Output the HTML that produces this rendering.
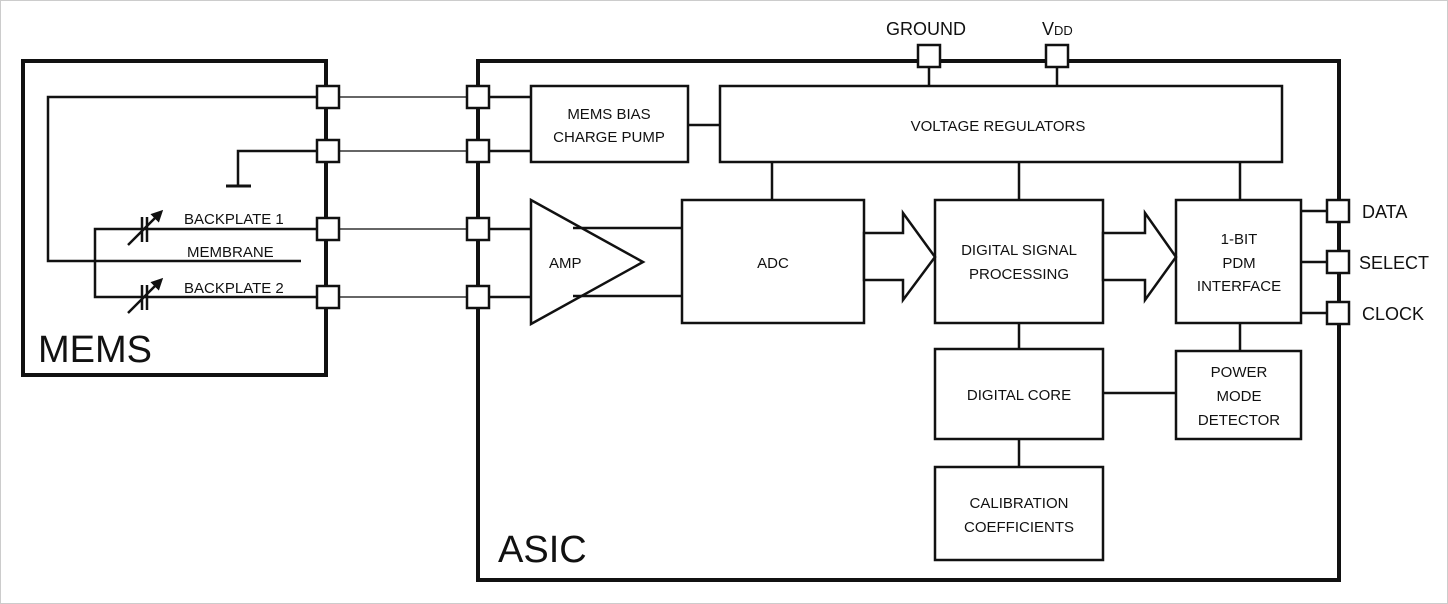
<!DOCTYPE html>
<html><head><meta charset="utf-8"><style>
html,body{margin:0;padding:0;background:#fff;}
svg{display:block;}
text{font-family:"Liberation Sans",sans-serif;fill:#111;}
</style></head><body>
<svg width="1448" height="604" viewBox="0 0 1448 604" xmlns="http://www.w3.org/2000/svg">
<defs>
<marker id="ah" markerWidth="12" markerHeight="12" refX="9" refY="6" orient="auto" markerUnits="userSpaceOnUse"><path d="M0,0 L12,6 L0,12 z" fill="#111"/></marker>
</defs>
<rect x="0.5" y="0.5" width="1447" height="603" fill="#fff" stroke="#ccc"/>
<g stroke="#666" stroke-width="2">
<line x1="340" y1="97" x2="466" y2="97"/>
<line x1="340" y1="151" x2="466" y2="151"/>
<line x1="340" y1="229" x2="466" y2="229"/>
<line x1="340" y1="297" x2="466" y2="297"/>
</g>
<rect x="23" y="61" width="303" height="314" fill="none" stroke="#111" stroke-width="4"/>
<rect x="478" y="61" width="861" height="519" fill="none" stroke="#111" stroke-width="4"/>
<g stroke="#111" stroke-width="2.5" fill="none">
<polyline points="317,97 48,97 48,261 301,261"/>
<polyline points="317,151 238,151 238,185"/>
<line x1="226" y1="186" x2="251" y2="186" stroke-width="3"/>
<polyline points="317,229 95,229 95,297 317,297"/>
<line x1="142" y1="217" x2="142" y2="242"/><line x1="147" y1="217" x2="147" y2="242"/>
<line x1="142" y1="285" x2="142" y2="310"/><line x1="147" y1="285" x2="147" y2="310"/>
<line x1="128" y1="245" x2="161" y2="212" marker-end="url(#ah)"/>
<line x1="128" y1="313" x2="161" y2="280" marker-end="url(#ah)"/>
<line x1="490" y1="97" x2="531" y2="97"/>
<line x1="490" y1="151" x2="531" y2="151"/>
<line x1="490" y1="229" x2="531" y2="229"/>
<line x1="490" y1="297" x2="531" y2="297"/>
<line x1="688" y1="125" x2="720" y2="125"/>
<line x1="929" y1="66" x2="929" y2="86"/>
<line x1="1057" y1="66" x2="1057" y2="86"/>
<line x1="772" y1="162" x2="772" y2="200"/>
<line x1="1019" y1="162" x2="1019" y2="200"/>
<line x1="1240" y1="162" x2="1240" y2="200"/>
<line x1="1019" y1="323" x2="1019" y2="349"/>
<line x1="1019" y1="439" x2="1019" y2="467"/>
<line x1="1240" y1="323" x2="1240" y2="351"/>
<line x1="1103" y1="393" x2="1176" y2="393"/>
<line x1="1301" y1="211" x2="1327" y2="211"/>
<line x1="1301" y1="262" x2="1327" y2="262"/>
<line x1="1301" y1="313" x2="1327" y2="313"/>
<line x1="573" y1="228" x2="682" y2="228"/>
<line x1="573" y1="296" x2="682" y2="296"/>
<rect x="531" y="86" width="157" height="76"/>
<rect x="720" y="86" width="562" height="76"/>
<polygon points="531,200 531,324 643,262"/>
<rect x="682" y="200" width="182" height="123"/>
<rect x="935" y="200" width="168" height="123"/>
<rect x="1176" y="200" width="125" height="123"/>
<rect x="935" y="349" width="168" height="90"/>
<rect x="1176" y="351" width="125" height="88"/>
<rect x="935" y="467" width="168" height="93"/>
<polygon points="864,233 903,233 903,213 935,257 903,300 903,280 864,280" fill="#fff"/>
<polygon points="1103,233 1145,233 1145,213 1176,257 1145,300 1145,280 1103,280" fill="#fff"/>
</g>
<g fill="#fff" stroke="#111" stroke-width="2.5">
<rect x="317" y="86" width="22" height="22"/><rect x="317" y="140" width="22" height="22"/>
<rect x="317" y="218" width="22" height="22"/><rect x="317" y="286" width="22" height="22"/>
<rect x="467" y="86" width="22" height="22"/><rect x="467" y="140" width="22" height="22"/>
<rect x="467" y="218" width="22" height="22"/><rect x="467" y="286" width="22" height="22"/>
<rect x="918" y="45" width="22" height="22"/><rect x="1046" y="45" width="22" height="22"/>
<rect x="1327" y="200" width="22" height="22"/><rect x="1327" y="251" width="22" height="22"/>
<rect x="1327" y="302" width="22" height="22"/>
</g>
<g font-size="15">
<text x="184" y="224">BACKPLATE 1</text>
<text x="187" y="257">MEMBRANE</text>
<text x="184" y="293">BACKPLATE 2</text>
<text x="609" y="119" text-anchor="middle">MEMS BIAS</text>
<text x="609" y="142" text-anchor="middle">CHARGE PUMP</text>
<text x="998" y="131" text-anchor="middle">VOLTAGE REGULATORS</text>
<text x="549" y="268">AMP</text>
<text x="773" y="268" text-anchor="middle">ADC</text>
<text x="1019" y="255" text-anchor="middle">DIGITAL SIGNAL</text>
<text x="1019" y="279" text-anchor="middle">PROCESSING</text>
<text x="1239" y="244" text-anchor="middle">1-BIT</text>
<text x="1239" y="268" text-anchor="middle">PDM</text>
<text x="1239" y="291" text-anchor="middle">INTERFACE</text>
<text x="1019" y="400" text-anchor="middle">DIGITAL CORE</text>
<text x="1239" y="377" text-anchor="middle">POWER</text>
<text x="1239" y="401" text-anchor="middle">MODE</text>
<text x="1239" y="425" text-anchor="middle">DETECTOR</text>
<text x="1019" y="508" text-anchor="middle">CALIBRATION</text>
<text x="1019" y="532" text-anchor="middle">COEFFICIENTS</text>
</g>
<g font-size="18">
<text x="926" y="35" text-anchor="middle">GROUND</text>
<text x="1042" y="35">V<tspan font-size="13">DD</tspan></text>
<text x="1362" y="218">DATA</text>
<text x="1359" y="269">SELECT</text>
<text x="1362" y="320">CLOCK</text>
</g>
<text x="38" y="362" font-size="38">MEMS</text>
<text x="498" y="562" font-size="38">ASIC</text>
</svg>
</body></html>
